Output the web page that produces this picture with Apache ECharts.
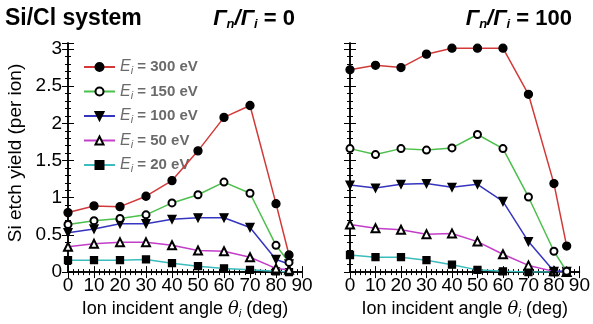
<!DOCTYPE html>
<html>
<head>
<meta charset="utf-8">
<script src="https://cdn.jsdelivr.net/npm/echarts@6/dist/echarts.min.js"></script>
<style>
  html, body { margin: 0; padding: 0; background: #fff; }
  #chart { width: 593px; height: 324px; }
</style>
</head>
<body>
<div id="chart"></div>
<script>
// incident angles (deg)
const angles = [0, 10, 20, 30, 40, 50, 60, 70, 80, 85]
const energyLabels = ["300", "150", "100", "50", "20"]

// Γn/Γi = 0
const noFlux300 = [0.80, 0.89, 0.88, 1.02, 1.23, 1.63, 2.08, 2.24, 0.92, 0.23]
const noFlux150 = [0.64, 0.69, 0.72, 0.77, 0.93, 1.04, 1.21, 1.06, 0.36, 0.13]
const noFlux100 = [0.53, 0.58, 0.65, 0.65, 0.71, 0.73, 0.73, 0.60, 0.17, 0.11]
const noFlux50 = [0.34, 0.38, 0.40, 0.40, 0.36, 0.29, 0.28, 0.20, 0.05, 0.03]
const noFlux20 = [0.16, 0.16, 0.16, 0.17, 0.12, 0.08, 0.05, 0.03, 0.01, 0.00]

// Γn/Γi = 100
const flux300 = [2.72, 2.78, 2.75, 2.93, 3.01, 3.01, 3.01, 2.39, 1.19, 0.35]
const flux150 = [1.66, 1.58, 1.66, 1.64, 1.67, 1.85, 1.66, 1.01, 0.28, 0.01]
const flux100 = [1.17, 1.13, 1.18, 1.19, 1.14, 1.18, 0.95, 0.41, 0.01, 0.01]
const flux50 = [0.64, 0.59, 0.57, 0.51, 0.52, 0.41, 0.24, 0.09, 0.01, 0.00]
const flux20 = [0.23, 0.20, 0.20, 0.16, 0.10, 0.03, 0.01, 0.00, 0.00, 0.00]

const lineColors = ["#d23a3a", "#4cbf4c", "#3535c0", "#c23ec8", "#3cbcbc"]
const symbols = ["circle", "emptyCircle", "triangle", "emptyTriangle", "rect"]
const symbolRotates = [0, 0, 180, 0, 0]
const symbolSizes = [8, 7, 8, 8, 7]

const font = "Liberation Sans, Arial, sans-serif"

const chart = echarts.init(document.getElementById("chart"), null, { renderer: "canvas" })

const seriesName = (i) => "E_i = " + energyLabels[i] + " eV"

function buildSeries(sets, axisIndex) {
  return sets.map((values, i) => ({
    name: seriesName(i),
    type: "line",
    xAxisIndex: axisIndex,
    yAxisIndex: axisIndex,
    data: angles.map((a, k) => [a, values[k]]),
    symbol: symbols[i],
    symbolSize: symbolSizes[i],
    symbolRotate: symbolRotates[i],
    showAllSymbol: true,
    z: 10 - i,
    lineStyle: { color: lineColors[i], width: 1.5 },
    itemStyle: { color: "#000", borderColor: "#000", borderWidth: 1.3 },
    emphasis: { disabled: true },
    animation: false,
  }))
}

function xAxisFor(gridIndex, position, showLabels) {
  return {
    type: "value",
    gridIndex: gridIndex,
    position: position,
    min: 0,
    max: 90,
    interval: 10,
    axisLine: { show: true, lineStyle: { color: "#000", width: 1.5 } },
    axisTick: { show: true, inside: true, length: 6, lineStyle: { color: "#000" } },
    minorTick: { show: true, splitNumber: 5, length: 3, lineStyle: { color: "#000" } },
    splitLine: { show: false },
    axisLabel: {
      show: showLabels,
      margin: 4,
      color: "#000",
      fontSize: 19,
      fontFamily: font,
    },
    name: showLabels ? "{n|Ion incident angle }{th|θ}{sub|i}{n| (deg)}" : "",
    nameLocation: "middle",
    nameGap: 23,
    nameTextStyle: {
      rich: {
        n: { fontSize: 18, fontFamily: font, color: "#000" },
        th: { fontSize: 18, fontFamily: "DejaVu Serif", fontStyle: "italic", color: "#000" },
        sub: { fontSize: 11, fontFamily: font, fontStyle: "italic", color: "#000", padding: [9, 0, 0, 0] },
      },
    },
  }
}

function yAxisFor(gridIndex, position, showLabels) {
  return {
    type: "value",
    gridIndex: gridIndex,
    position: position,
    min: 0,
    max: 3.08,
    interval: 0.5,
    axisLine: { show: true, lineStyle: { color: "#000", width: 1.5 } },
    axisTick: { show: true, inside: true, length: 6, lineStyle: { color: "#000" } },
    minorTick: { show: true, splitNumber: 5, length: 3, lineStyle: { color: "#000" } },
    splitLine: { show: false },
    axisLabel: {
      show: showLabels,
      showMaxLabel: false,
      margin: 6,
      color: "#000",
      fontSize: 19,
      fontFamily: font,
    },
  }
}

const legendRich = {
  e: { fontSize: 16, fontFamily: font, fontStyle: "italic", color: "#6a6a6a" },
  sub: { fontSize: 11, fontFamily: font, fontStyle: "italic", color: "#6a6a6a", padding: [8, 0, 0, 0] },
  t: { fontSize: 15, fontFamily: font, fontWeight: "bold", color: "#6a6a6a" },
}

const gammaRich = {
  g: { fontSize: 22, fontFamily: font, fontWeight: "bold", fontStyle: "italic", fill: "#000" },
  s: { fontSize: 13, fontFamily: font, fontWeight: "bold", fontStyle: "italic", fill: "#000", padding: [10, 0, 0, 0] },
  v: { fontSize: 22, fontFamily: font, fontWeight: "bold", fill: "#000" },
}

const option = {
  animation: false,
  backgroundColor: "#fff",
  grid: [
    { left: 68, top: 43, width: 234, height: 232 },
    { left: 350, top: 43, width: 234, height: 232 },
  ],
  xAxis: [
    xAxisFor(0, "bottom", true),
    xAxisFor(1, "bottom", true),
    xAxisFor(0, "top", false),
    xAxisFor(1, "top", false),
  ],
  yAxis: [
    yAxisFor(0, "left", true),
    yAxisFor(1, "left", false),
    yAxisFor(0, "right", false),
    yAxisFor(1, "right", false),
  ],
  legend: {
    orient: "vertical",
    left: 78,
    top: 54,
    itemWidth: 31,
    itemHeight: 10,
    itemGap: 7,
    selectedMode: false,
    data: energyLabels.map((_, i) => seriesName(i)),
    formatter: (name) => {
      const v = name.replace("E_i = ", "").replace(" eV", "")
      return "{e|E}{sub|i}{t| = " + v + " eV}"
    },
    textStyle: { rich: legendRich },
  },
  graphic: [
    {
      type: "text",
      left: 5,
      top: 7,
      style: {
        text: "Si/Cl system",
        font: "bold 23px Liberation Sans, Arial, sans-serif",
        fill: "#000",
      },
    },
    {
      type: "text",
      right: 298,
      top: 8,
      style: { text: "{g|Γ}{s|n}{g|/Γ}{s|i}{v| = 0}", rich: gammaRich },
    },
    {
      type: "text",
      right: 21,
      top: 8,
      style: { text: "{g|Γ}{s|n}{g|/Γ}{s|i}{v| = 100}", rich: gammaRich },
    },
    {
      type: "text",
      x: 16,
      y: 153,
      rotation: Math.PI / 2,
      style: {
        text: "Si etch yield (per ion)",
        font: "19px Liberation Sans, Arial, sans-serif",
        fill: "#000",
        align: "center",
        verticalAlign: "middle",
      },
    },
  ],
  series: [
    ...buildSeries([noFlux300, noFlux150, noFlux100, noFlux50, noFlux20], 0),
    ...buildSeries([flux300, flux150, flux100, flux50, flux20], 1),
  ],
}

chart.setOption(option)
</script>
</body>
</html>
